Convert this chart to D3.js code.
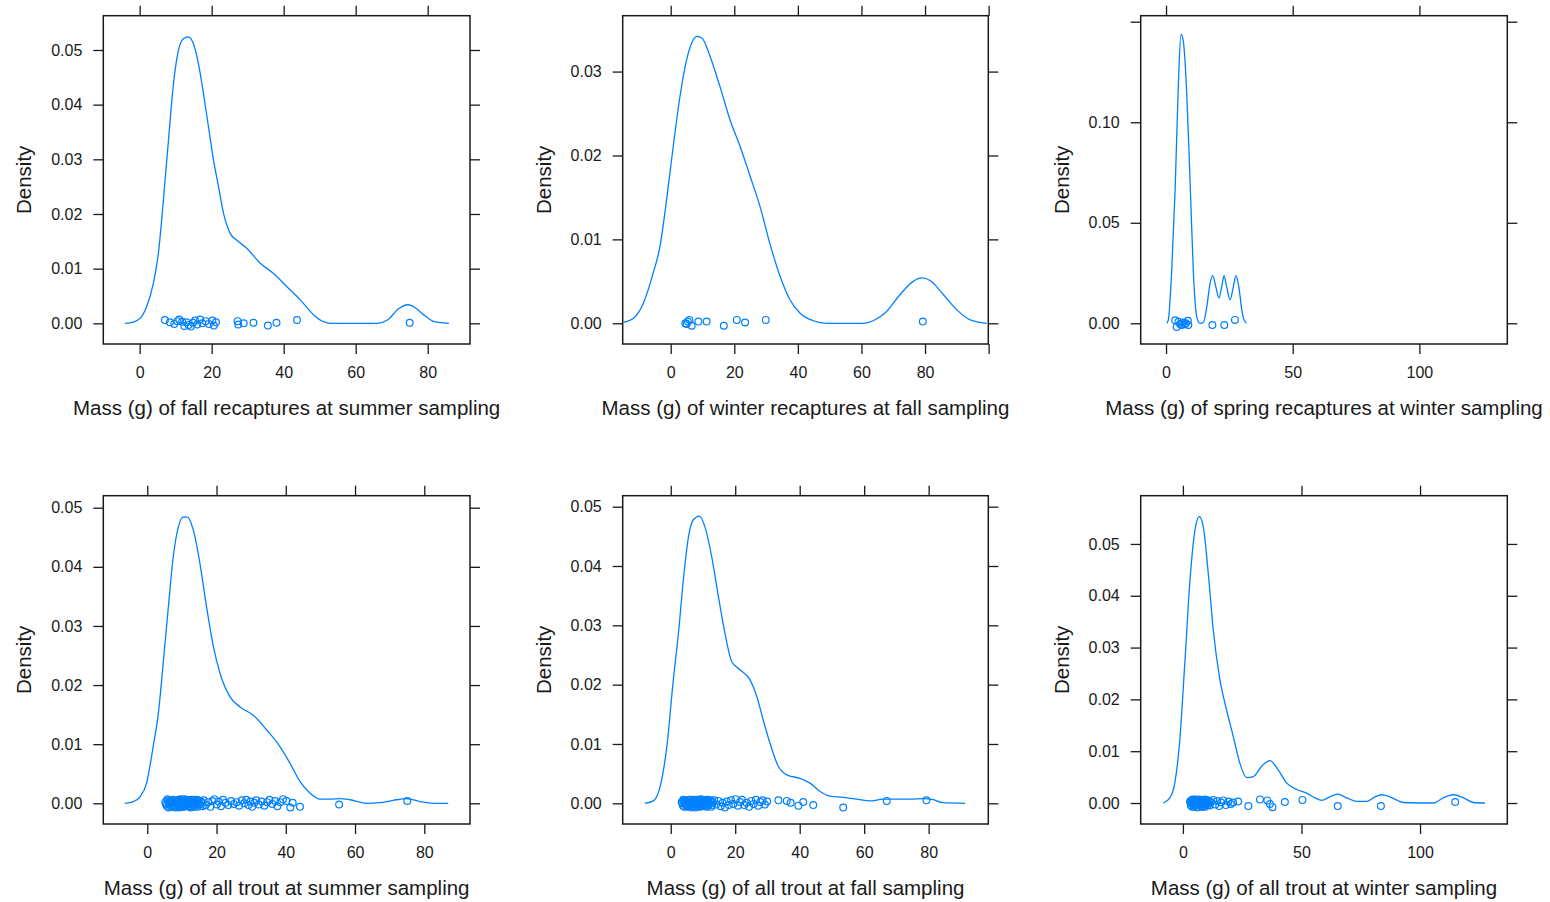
<!DOCTYPE html>
<html>
<head>
<meta charset="utf-8">
<script src="https://cdn.jsdelivr.net/npm/d3@7"></script>
<style>
  html, body { margin: 0; padding: 0; background: #fff; }
  svg { display: block; font-family: "Liberation Sans", Arial, sans-serif; }
</style>
</head>
<body>
<svg id="chart" width="1550" height="902"></svg>
<script>
// ---- Axis titles ----
const xTitles = [
  "Mass (g) of fall recaptures at summer sampling",
  "Mass (g) of winter recaptures at fall sampling",
  "Mass (g) of spring recaptures at winter sampling",
  "Mass (g) of all trout at summer sampling",
  "Mass (g) of all trout at fall sampling",
  "Mass (g) of all trout at winter sampling"
];
const yTitle = "Density";

// ---- Tick values ----
const xTicksEighty = [0, 20, 40, 60, 80];
const xTicksHundred = [0, 20, 40, 60, 80, 100];
const xTicksFifty = [0, 50, 100];
const yTicksFive = [0, 0.01, 0.02, 0.03, 0.04, 0.05];
const yTicksThree = [0, 0.01, 0.02, 0.03];
const yTicksSpring = [0, 0.05, 0.10, 0.15];
// ticks drawn at the very edge of a panel carry no label
const winterRecapUnlabelledX = [100];
const springRecapUnlabelledY = [0.15];

// ---- Density curves: [mass (g), density] ----
const fallRecapSummerCurve = [
  [-4.1,0],[-1.8,0.00024],[0.1,0.0009],[1.9,0.003],[3.8,0.0073],[5.2,0.0128],[6.6,0.0226],
  [8.0,0.0335],[9.4,0.0439],[10.8,0.0500],[12.2,0.0521],[13.5,0.0524],[14.9,0.0512],
  [16.3,0.0476],[17.7,0.0421],[19.1,0.0360],[20.5,0.0299],[21.9,0.0250],[23.3,0.0201],
  [25.1,0.0165],[27.0,0.0152],[29.8,0.0137],[33.5,0.0110],[37.2,0.0091],[40.9,0.0067],
  [44.6,0.0043],[48.4,0.0015],[51.1,0.0003],[53.0,0],[66.0,0],[68.8,0.0006],[72.0,0.0027],
  [74.3,0.0034],[75.7,0.0032],[79.0,0.0015],[81.8,0.0003],[85.9,0]
];
const winterRecapFallCurve = [
  [-14.9,0.0001],[-11.7,0.0006],[-8.6,0.0024],[-5.5,0.0060],[-3.4,0.0091],[-1.3,0.0147],
  [0.8,0.0211],[2.9,0.0270],[5.0,0.0314],[6.6,0.0334],[8.2,0.0342],[9.8,0.0340],
  [12.4,0.0318],[15.5,0.0282],[18.7,0.0242],[21.8,0.0211],[25.0,0.0175],[28.1,0.0139],
  [31.2,0.0095],[34.4,0.0056],[37.5,0.0028],[40.7,0.0012],[44.9,0.0003],[49.1,0],[60.6,0],
  [63.7,0.0003],[67.9,0.0014],[72.1,0.0034],[76.3,0.0050],[79.0,0.0054],[81.6,0.0051],
  [85.8,0.0034],[90.0,0.0016],[94.2,0.0004],[99.4,0]
];
const springRecapWinterCurve = [
  [0.3,0],[0.9,0.0017],[2.2,0.025],[3.6,0.067],[4.9,0.120],[5.9,0.1438],[6.8,0.1405],
  [8.2,0.1137],[9.5,0.0702],[10.8,0.025],[12.1,0.0033],[13.4,0],[14.7,0.0003],[16.1,0.0084],
  [17.4,0.0200],[18.4,0.0237],[19.6,0.0184],[20.9,0.0125],[22.0,0.0184],[22.9,0.0237],
  [23.9,0.0184],[25.3,0.0117],[26.6,0.0184],[27.6,0.0237],[28.7,0.0184],[29.9,0.0067],
  [30.8,0.0017],[31.8,0]
];
const allSummerCurve = [
  [-6.5,0],[-4.0,0.0003],[-2.1,0.0011],[-0.2,0.0034],[1.7,0.0096],[3.2,0.0152],[4.6,0.0237],
  [6.1,0.0333],[7.5,0.0417],[9.0,0.0468],[10.4,0.0484],[11.6,0.0484],[13.3,0.0462],
  [15.2,0.0406],[17.1,0.0333],[19.1,0.0265],[21.0,0.0220],[23.9,0.0180],[26.8,0.0163],
  [30.6,0.0149],[34.5,0.0124],[38.3,0.0096],[41.2,0.0068],[44.1,0.0037],[47.0,0.0017],
  [49.9,0.0007],[52.8,0.0007],[55.6,0.0008],[58.5,0.0006],[63.3,0],[67.2,0.0001],
  [71.0,0.0005],[74.9,0.0008],[78.7,0.0003],[82.6,0],[86.9,0]
];
const allFallCurve = [
  [-8.0,0],[-5.4,0.0004],[-3.3,0.0028],[-1.2,0.0096],[0.8,0.0208],[2.4,0.0287],[3.9,0.0376],
  [5.5,0.0449],[7.0,0.0478],[8.9,0.0484],[10.6,0.0466],[12.7,0.0416],[14.8,0.0348],
  [16.8,0.0287],[18.9,0.0239],[21.5,0.0225],[24.6,0.0208],[26.7,0.0180],[28.7,0.0140],
  [30.8,0.0101],[33.4,0.0062],[36.0,0.0048],[40.1,0.0042],[43.2,0.0034],[46.3,0.0020],
  [49.4,0.0012],[53.5,0.0010],[57.7,0.0007],[61.8,0.0004],[65.9,0.0007],[70.1,0.0007],
  [74.2,0.0007],[78.4,0.0008],[81.4,0.0006],[84.5,0.0001],[91.3,0]
];
const allWinterCurve = [
  [-8.3,0],[-5.5,0.0010],[-3.4,0.0039],[-1.3,0.0122],[0.8,0.0270],[3.0,0.0431],[5.1,0.0527],
  [6.9,0.0553],[8.6,0.0533],[10.7,0.0443],[12.8,0.0334],[15.6,0.0238],[18.4,0.0180],
  [21.2,0.0129],[24.0,0.0077],[26.9,0.0049],[29.7,0.0051],[33.2,0.0071],[36.7,0.0082],
  [40.2,0.0064],[43.7,0.0039],[48.0,0.0026],[52.2,0.0019],[55.7,0.0010],[58.5,0.0005],
  [62.0,0.0012],[65.3,0.0017],[69.1,0.0010],[73.3,0.0003],[77.5,0.0003],[81.0,0.0012],
  [83.8,0.0016],[87.3,0.0012],[93.0,0.0001],[105.6,0],[109.8,0.0010],[114.1,0.0016],
  [118.3,0.0010],[122.5,0.0001],[127.4,0]
];

// ---- Individual fish: [mass (g), vertical jitter in density units] ----
const fallRecapSummerPoints = [
  [7.0,0.0006],[8.4,0.0002],[9.6,-0.0001],[10.5,0.0004],[11.0,0.0007],[11.8,0.0003],
  [12.4,-0.0005],[13.0,0.0002],[13.6,-0.0003],[14.2,-0.0006],[14.8,0.0001],[15.4,0.0005],
  [16.0,-0.0002],[16.8,0.0007],[17.4,0.0],[18.3,0.0004],[19.2,-0.0001],[20.2,0.0005],
  [20.6,-0.0004],[21.2,0.0002],[27.2,0.0004],[27.4,-0.0002],[28.9,0.0],[31.6,0.0001],
  [35.6,-0.0004],[38.0,0.0001],[43.7,0.0006],[75.0,0.0001]
];
const winterRecapFallPoints = [
  [4.6,0.0],[5.0,-0.0001],[5.4,0.0002],[5.9,0.0004],[6.6,-0.0003],[8.7,0.0002],[11.3,0.0002],
  [16.7,-0.0003],[20.8,0.0004],[23.4,0.0001],[29.9,0.0004],[79.3,0.0002]
];
const springRecapWinterPoints = [
  [3.6,0.0015],[4.2,-0.0018],[4.9,0.0008],[5.5,-0.0003],[6.2,-0.0008],[6.8,0.0004],
  [7.4,-0.0005],[7.8,0.0],[8.6,0.0013],[8.8,-0.0008],[18.3,-0.0009],[23.0,-0.0009],[27.2,0.0017]
];
const allSummerPoints = [
  [5.2,0.0002],[5.4,-0.0001],[5.6,-0.0004],[5.8,0.0007],[6.0,0.0005],[6.1,-0.0007],[6.3,-0.0001],
  [6.4,0.0004],[6.6,0.0003],[6.8,0.0],[6.9,-0.0006],[7.0,0.0004],[7.2,0.0001],[7.4,0.0006],
  [7.5,-0.0006],[7.7,-0.0003],[7.9,0.0005],[8.0,0.0002],[8.2,-0.0007],[8.3,0.0],[8.5,0.0004],
  [8.6,-0.0004],[8.7,-0.0001],[8.9,0.0003],[9.0,0.0006],[9.2,-0.0004],[9.3,-0.0007],[9.5,0.0001],
  [9.6,0.0007],[9.7,0.0005],[9.9,-0.0002],[10.0,-0.0006],[10.2,0.0002],[10.3,0.0005],
  [10.5,-0.0002],[10.6,-0.0006],[10.7,0.0007],[10.9,0.0001],[11.0,-0.0004],[11.2,0.0003],
  [11.3,0.0006],[11.5,-0.0001],[11.6,-0.0003],[11.8,0.0005],[11.9,0.0],[12.0,-0.0005],
  [12.2,0.0004],[12.3,0.0001],[12.5,-0.0007],[12.6,0.0006],[12.8,0.0002],[12.9,-0.0003],
  [13.1,-0.0001],[13.2,0.0003],[13.4,0.0006],[13.5,-0.0006],[13.7,-0.0004],[13.8,0.0002],
  [14.0,0.0],[14.2,0.0006],[14.4,-0.0006],[14.5,-0.0002],[14.7,0.0005],[14.9,0.0004],
  [15.1,-0.0002],[15.3,-0.0005],[15.5,0.0003],[15.8,0.0001],[16.0,-0.0005],[16.3,0.0005],
  [16.9,-0.0003],[17.6,0.0002],[18.2,-0.0006],[18.8,0.0004],[19.4,0.0007],[20.1,-0.0002],
  [20.6,0.0003],[21.3,-0.0005],[21.9,0.0006],[22.6,0.0001],[23.4,-0.0003],[24.2,0.0004],
  [25.0,-0.0001],[25.8,0.0002],[26.5,-0.0004],[27.3,0.0005],[28.0,0.0],[28.6,0.0006],
  [29.2,-0.0003],[29.8,0.0003],[30.3,-0.0006],[30.9,0.0001],[31.5,0.0005],[32.2,-0.0002],
  [33.0,0.0003],[33.8,-0.0004],[34.6,0.0002],[35.3,0.0006],[36.1,-0.0001],[36.9,0.0004],
  [37.6,-0.0005],[38.4,0.0002],[39.2,0.0007],[40.2,0.0004],[41.3,-0.0007],[42.0,0.0001],
  [44.1,-0.0006],[55.4,-0.0002],[75.1,0.0004]
];
const allFallPoints = [
  [3.4,0.0002],[3.6,0.0],[3.8,-0.0004],[3.9,0.0006],[4.1,0.0005],[4.2,-0.0006],[4.4,-0.0001],
  [4.5,0.0004],[4.7,0.0003],[4.8,-0.0003],[5.0,-0.0006],[5.1,0.0004],[5.3,0.0001],[5.4,-0.0005],
  [5.6,0.0006],[5.7,0.0],[5.9,-0.0003],[6.0,0.0006],[6.1,0.0002],[6.3,-0.0002],[6.4,-0.0007],
  [6.6,0.0001],[6.7,0.0004],[6.9,-0.0005],[7.0,-0.0001],[7.1,0.0003],[7.2,0.0006],[7.4,0.0],
  [7.5,-0.0004],[7.7,-0.0007],[7.8,0.0001],[8.0,0.0002],[8.1,0.0005],[8.3,0.0006],[8.4,-0.0006],
  [8.6,-0.0003],[8.7,0.0002],[8.9,0.0004],[9.0,-0.0002],[9.2,-0.0006],[9.3,0.0007],[9.5,0.0001],
  [9.6,-0.0004],[9.8,0.0006],[9.9,0.0003],[10.1,-0.0004],[10.2,-0.0001],[10.4,0.0002],
  [10.5,0.0005],[10.7,-0.0001],[10.8,-0.0005],[11.0,0.0005],[11.1,0.0001],[11.3,-0.0006],
  [11.4,0.0006],[11.6,0.0003],[11.8,-0.0003],[12.0,0.0],[12.2,0.0003],[12.4,0.0005],
  [12.6,-0.0006],[12.8,-0.0003],[13.0,0.0002],[13.5,0.0005],[14.1,-0.0002],[14.8,0.0004],
  [15.5,-0.0005],[16.1,0.0001],[16.8,-0.0007],[17.4,0.0003],[18.0,-0.0003],[18.7,0.0005],
  [19.4,-0.0001],[20.1,0.0007],[20.8,-0.0004],[21.5,0.0002],[22.1,0.0006],[22.8,-0.0003],
  [23.5,0.0001],[24.3,-0.0006],[25.0,0.0004],[25.7,-0.0001],[26.4,0.0006],[27.1,-0.0004],
  [27.8,0.0002],[28.5,0.0005],[29.2,-0.0002],[29.9,0.0003],[33.4,0.0005],[36.0,0.0004],
  [37.2,0.0001],[39.6,-0.0004],[41.1,0.0002],[44.2,-0.0003],[53.5,-0.0007],[67.0,0.0004],
  [79.3,0.0005]
];
const allWinterPoints = [
  [3.0,0.0003],[3.2,0.0],[3.4,-0.0005],[3.6,0.0005],[3.8,0.0006],[3.9,-0.0007],[4.1,-0.0001],
  [4.2,0.0007],[4.4,0.0004],[4.5,-0.0003],[4.7,-0.0007],[4.8,0.0004],[5.0,0.0001],[5.1,-0.0005],
  [5.3,0.0007],[5.4,0.0],[5.6,-0.0004],[5.7,0.0006],[5.9,0.0002],[6.0,-0.0008],[6.2,-0.0008],
  [6.3,0.0002],[6.5,0.0005],[6.6,-0.0004],[6.8,-0.0002],[6.9,0.0007],[7.1,0.0006],[7.2,-0.0001],
  [7.4,-0.0005],[7.5,0.0004],[7.7,0.0001],[7.8,-0.0007],[8.0,0.0006],[8.1,0.0001],[8.3,-0.0007],
  [8.4,0.0005],[8.6,0.0003],[8.7,-0.0005],[8.9,-0.0002],[9.0,0.0002],[9.2,0.0007],[9.4,-0.0007],
  [9.6,-0.0004],[9.8,0.0006],[10.0,0.0003],[10.2,0.0],[10.4,-0.0001],[10.6,-0.0004],
  [10.8,0.0005],[11.0,0.0003],[11.3,-0.0005],[11.8,0.0002],[12.8,0.0006],[13.6,-0.0003],
  [14.5,0.0004],[15.3,-0.0006],[16.1,0.0001],[17.0,0.0005],[18.1,-0.0004],[19.2,0.0003],
  [20.2,-0.0002],[21.2,0.0001],[23.3,0.0003],[27.6,-0.0006],[32.5,0.0007],[35.6,0.0005],
  [36.7,-0.0002],[37.8,-0.0008],[43.0,0.0002],[50.4,0.0006],[65.3,-0.0006],[83.5,-0.0006],
  [114.8,0.0002]
];

// ---- Panel layout: box in page pixels and axis limits ----
const panels = [
  { box: [103.3, 15.7, 470, 344],    xd: [-10.1, 91.75], yd: [-0.00378, 0.05627],
    curve: fallRecapSummerCurve, pts: fallRecapSummerPoints, xt: xTicksEighty, yt: yTicksFive,
    xHide: [], yHide: [], title: xTitles[0] },
  { box: [622.7, 15.7, 988.3, 344],  xd: [-15.1, 99.9],  yd: [-0.00247, 0.03666],
    curve: winterRecapFallCurve, pts: winterRecapFallPoints, xt: xTicksHundred, yt: yTicksThree,
    xHide: winterRecapUnlabelledX, yHide: [], title: xTitles[1] },
  { box: [1140.7, 15.7, 1507.3, 344], xd: [-10.0, 134.7], yd: [-0.0103, 0.1530],
    curve: springRecapWinterCurve, pts: springRecapWinterPoints, xt: xTicksFifty, yt: yTicksSpring,
    xHide: [], yHide: springRecapUnlabelledY, title: xTitles[2] },
  { box: [103.3, 495.7, 470, 824],   xd: [-12.7, 93.2],  yd: [-0.0035, 0.05203],
    curve: allSummerCurve, pts: allSummerPoints, xt: xTicksEighty, yt: yTicksFive,
    xHide: [], yHide: [], title: xTitles[3] },
  { box: [622.7, 495.7, 988.3, 824], xd: [-14.9, 98.5],  yd: [-0.00349, 0.05185],
    curve: allFallCurve, pts: allFallPoints, xt: xTicksEighty, yt: yTicksFive,
    xHide: [], yHide: [], title: xTitles[4] },
  { box: [1140.7, 495.7, 1507.3, 824], xd: [-17.8, 136.8], yd: [-0.00405, 0.05931],
    curve: allWinterCurve, pts: allWinterPoints, xt: xTicksFifty, yt: yTicksFive,
    xHide: [], yHide: [], title: xTitles[5] }
];

const ink = "#1a1a1a";
const lineBlue = "#0080ff";
const tickLen = 10;
const svg = d3.select("#chart");

panels.forEach(p => {
  const [x0, y0, x1, y1] = p.box;
  const x = d3.scaleLinear().domain(p.xd).range([x0, x1]);
  const y = d3.scaleLinear().domain(p.yd).range([y1, y0]);
  const g = svg.append("g");

  const xLabel = v => p.xHide.includes(v) ? "" : d3.format("d")(v);
  const yLabel = v => p.yHide.includes(v) ? "" : d3.format(".2f")(v);

  // bottom axis with labels, top axis with ticks only
  const bottom = g.append("g").attr("transform", `translate(0,${y1})`)
    .call(d3.axisBottom(x).tickValues(p.xt).tickSize(tickLen).tickPadding(13).tickFormat(xLabel));
  const top = g.append("g").attr("transform", `translate(0,${y0})`)
    .call(d3.axisTop(x).tickValues(p.xt).tickSize(tickLen).tickFormat(""));
  // left axis with labels, right axis with ticks only
  const left = g.append("g").attr("transform", `translate(${x0},0)`)
    .call(d3.axisLeft(y).tickValues(p.yt).tickSize(tickLen).tickPadding(11).tickFormat(yLabel));
  const right = g.append("g").attr("transform", `translate(${x1},0)`)
    .call(d3.axisRight(y).tickValues(p.yt).tickSize(tickLen).tickFormat(""));

  [bottom, top, left, right].forEach(a => {
    a.select(".domain").remove();
    a.selectAll(".tick line").attr("stroke", ink).attr("stroke-width", 1.3);
    a.selectAll(".tick text").attr("fill", ink).style("font-size", "16px")
      .style("font-family", '"Liberation Sans", Arial, sans-serif');
  });

  // panel frame
  g.append("rect")
    .attr("x", x0).attr("y", y0).attr("width", x1 - x0).attr("height", y1 - y0)
    .attr("fill", "none").attr("stroke", ink).attr("stroke-width", 1.5);

  const plot = g.append("g");

  // density curve
  plot.append("path")
    .datum(p.curve)
    .attr("fill", "none").attr("stroke", lineBlue).attr("stroke-width", 1.3)
    .attr("d", d3.line().x(d => x(d[0])).y(d => y(d[1])).curve(d3.curveMonotoneX));

  // jittered observations
  plot.selectAll("circle").data(p.pts).join("circle")
    .attr("cx", d => x(d[0])).attr("cy", d => y(d[1])).attr("r", 3.4)
    .attr("fill", "none").attr("stroke", lineBlue).attr("stroke-width", 1.2);

  // axis titles
  g.append("text")
    .attr("x", (x0 + x1) / 2).attr("y", y1 + 71)
    .attr("text-anchor", "middle").attr("fill", ink).style("font-size", "20.5px")
    .text(p.title);
  g.append("text")
    .attr("transform", `translate(${x0 - 79},${(y0 + y1) / 2}) rotate(-90)`)
    .attr("text-anchor", "middle").attr("dy", "0.35em").attr("fill", ink).style("font-size", "20.5px")
    .text(yTitle);
});
</script>
</body>
</html>
